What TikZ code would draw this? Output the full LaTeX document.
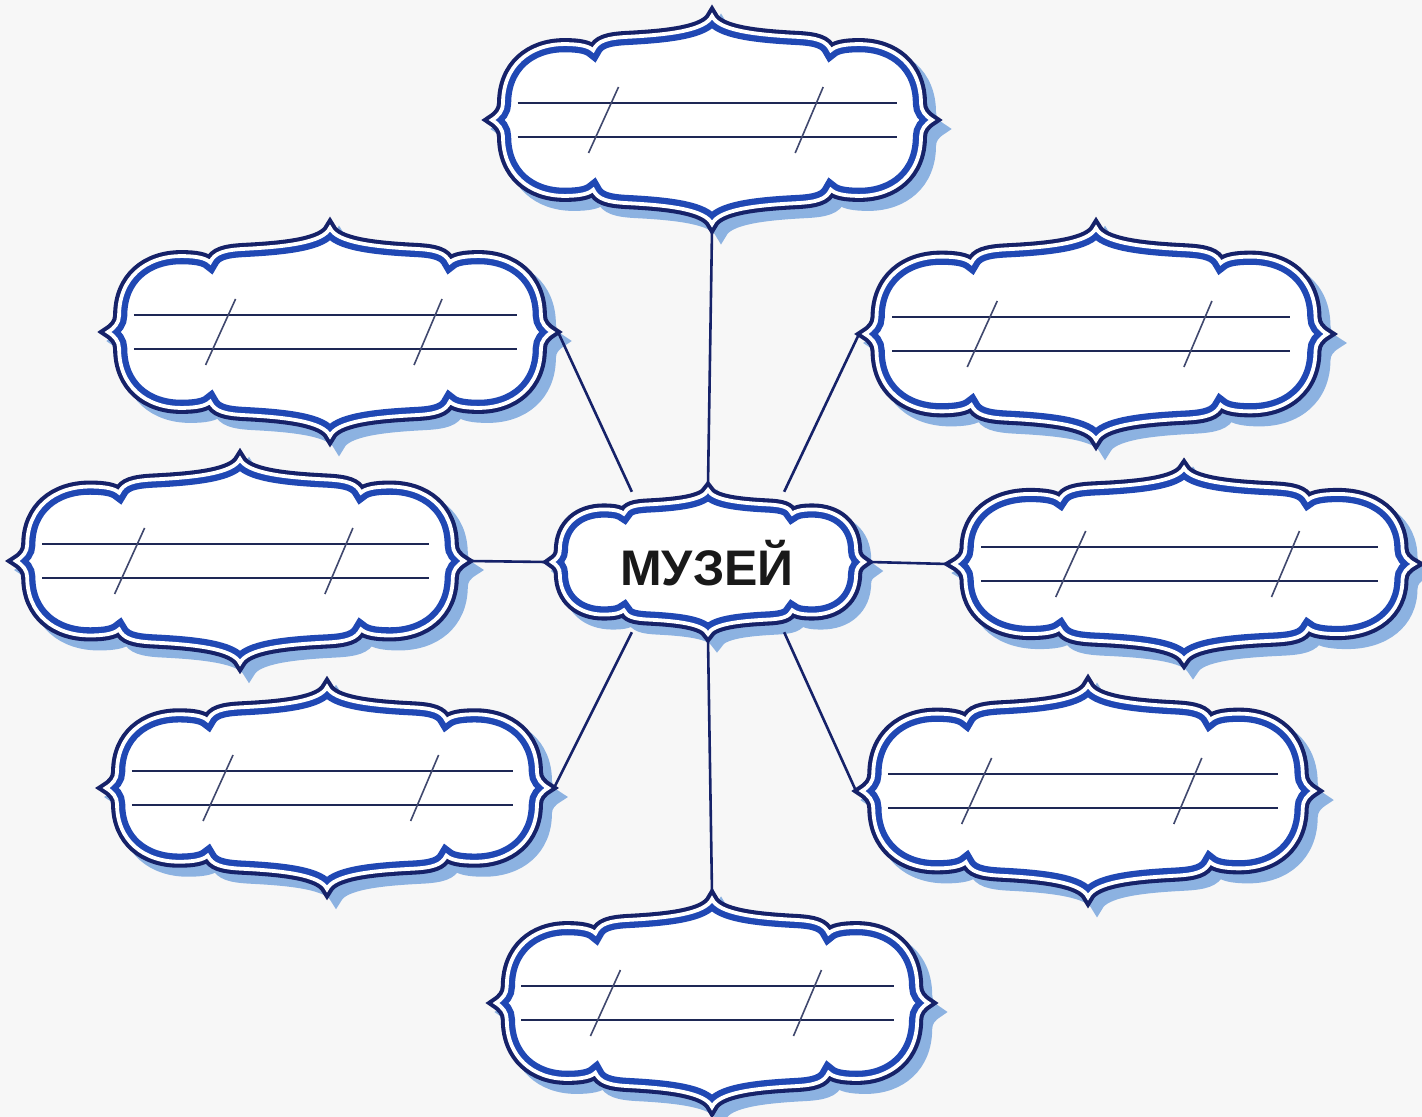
\documentclass[tikz,border=0pt]{standalone}
\usepackage{fontspec}
\setmainfont{Liberation Sans}
\definecolor{framenavy}{RGB}{22,34,105}
\definecolor{frameblue}{RGB}{32,72,180}
\definecolor{shadowblue}{RGB}{140,178,225}
\definecolor{inkline}{RGB}{30,40,85}
\definecolor{paper}{RGB}{247,247,247}

% one quarter of the cartouche outline (unit size), forward and reversed
\newcommand\quartfwd[2]{.. controls ({-0.97*(#1)},{0.04*(#2)}) and ({-0.95*(#1)},{0.09*(#2)}) .. ({-0.95*(#1)},{0.16*(#2)})
  .. controls ({-0.95*(#1)},{0.52*(#2)}) and ({-0.83*(#1)},{0.73*(#2)}) .. ({-0.67*(#1)},{0.73*(#2)})
  .. controls ({-0.6*(#1)},{0.73*(#2)}) and ({-0.56*(#1)},{0.71*(#2)}) .. ({-0.54*(#1)},{0.67*(#2)})
  .. controls ({-0.52*(#1)},{0.76*(#2)}) and ({-0.48*(#1)},{0.79*(#2)}) .. ({-0.38*(#1)},{0.8*(#2)})
  .. controls ({-0.2*(#1)},{0.82*(#2)}) and ({-0.03*(#1)},{0.86*(#2)}) .. (0,{#2})}
\newcommand\quartrev[2]{.. controls ({-0.03*(#1)},{0.86*(#2)}) and ({-0.2*(#1)},{0.82*(#2)}) .. ({-0.38*(#1)},{0.8*(#2)})
  .. controls ({-0.48*(#1)},{0.79*(#2)}) and ({-0.52*(#1)},{0.76*(#2)}) .. ({-0.54*(#1)},{0.67*(#2)})
  .. controls ({-0.56*(#1)},{0.71*(#2)}) and ({-0.6*(#1)},{0.73*(#2)}) .. ({-0.67*(#1)},{0.73*(#2)})
  .. controls ({-0.83*(#1)},{0.73*(#2)}) and ({-0.95*(#1)},{0.52*(#2)}) .. ({-0.95*(#1)},{0.16*(#2)})
  .. controls ({-0.95*(#1)},{0.09*(#2)}) and ({-0.97*(#1)},{0.04*(#2)}) .. ({-(#1)},0)}
\newcommand\framepath{(-1,0) \quartfwd{1}{1} \quartrev{-1}{1} \quartfwd{-1}{-1} \quartrev{1}{-1} -- cycle}

% shadow, double outline and anchors of one cartouche
\newcommand\framebody[2]{%
  \path[fill=shadowblue, draw=shadowblue, line width=6pt, line join=miter, miter limit=4,
    xshift=4.5pt, yshift=-4.5pt, xscale=#1-6, yscale=#2-6] \framepath;
  \begin{scope}[xscale=#1-6, yscale=#2-6, line join=miter, miter limit=4]
    \fill[white] \framepath;
    \draw[framenavy, line width=6pt] \framepath;
    \begin{scope}
      \clip \framepath;
      \draw[frameblue, line width=8.2pt] \framepath;
    \end{scope}
    \draw[white, line width=1.9pt] \framepath;
  \end{scope}
  \coordinate (-n) at (0,{-(#2)});
  \coordinate (-s) at (0,{#2});
  \coordinate (-w) at ({-(#1)},0);
  \coordinate (-e) at ({#1},0);
  \coordinate (-nw) at ({-0.47*(#1)},{-0.9*(#2)});
  \coordinate (-ne) at ({0.47*(#1)},{-0.9*(#2)});
  \coordinate (-sw) at ({-0.47*(#1)},{0.9*(#2)});
  \coordinate (-se) at ({0.47*(#1)},{0.9*(#2)});
}

\tikzset{
  writeline/.style={draw=inkline, line width=1.1pt},
  slashline/.style={draw=inkline!85, line width=0.8pt},
  pics/cartouche/.style 2 args={code={\framebody{#1}{#2}}},
  pics/linedcartouche/.style 2 args={code={
    \framebody{#1}{#2}
    \draw[writeline] ({-0.86*(#1)},-17) -- ({0.82*(#1)},-17);
    \draw[writeline] ({-0.86*(#1)},17) -- ({0.82*(#1)},17);
    \draw[slashline] ({-0.48*(#1)+15},-33) -- ({-0.48*(#1)-15},33);
    \draw[slashline] ({0.43*(#1)+14},-33) -- ({0.43*(#1)-14},33);
  }}
}

\begin{document}
\begin{tikzpicture}[
  x=0.5pt, y=-0.5pt,
  link/.style={draw=framenavy, line width=1.3pt},
  title/.style={font=\bfseries\fontsize{25}{25}\selectfont, text=black!90}
]
\fill[paper] (0,0) rectangle (1422,1117);
\useasboundingbox (0,0) rectangle (1422,1117);

% outer cartouches
\pic (top) at (712,120) {linedcartouche={226}{110}};
\pic (tl) at (330,332) {linedcartouche={228}{110}};
\pic (tr) at (1096,334) {linedcartouche={237}{112}};
\pic (ml) at (240,561) {linedcartouche={230}{108}};
\pic (mr) at (1184,564) {linedcartouche={236}{102}};
\pic (bl) at (327,788) {linedcartouche={227}{107}};
\pic (br) at (1088,791) {linedcartouche={232}{112}};
\pic (bot) at (712,1003) {linedcartouche={222}{110}};

% centre
\pic (c) at (708,562) {cartouche={162}{78}};
\node[title] (museum) at (707,563) {МУЗЕЙ};

\draw[link] (top-s) -- (c-n);
\draw[link] (tl-e) -- (c-nw);
\draw[link] (tr-w) -- (c-ne);
\draw[link] (ml-e) -- (c-w);
\draw[link] (mr-w) -- (c-e);
\draw[link] (bl-e) -- (c-sw);
\draw[link] (br-w) -- (c-se);
\draw[link] (bot-n) -- (c-s);
\end{tikzpicture}
\end{document}
